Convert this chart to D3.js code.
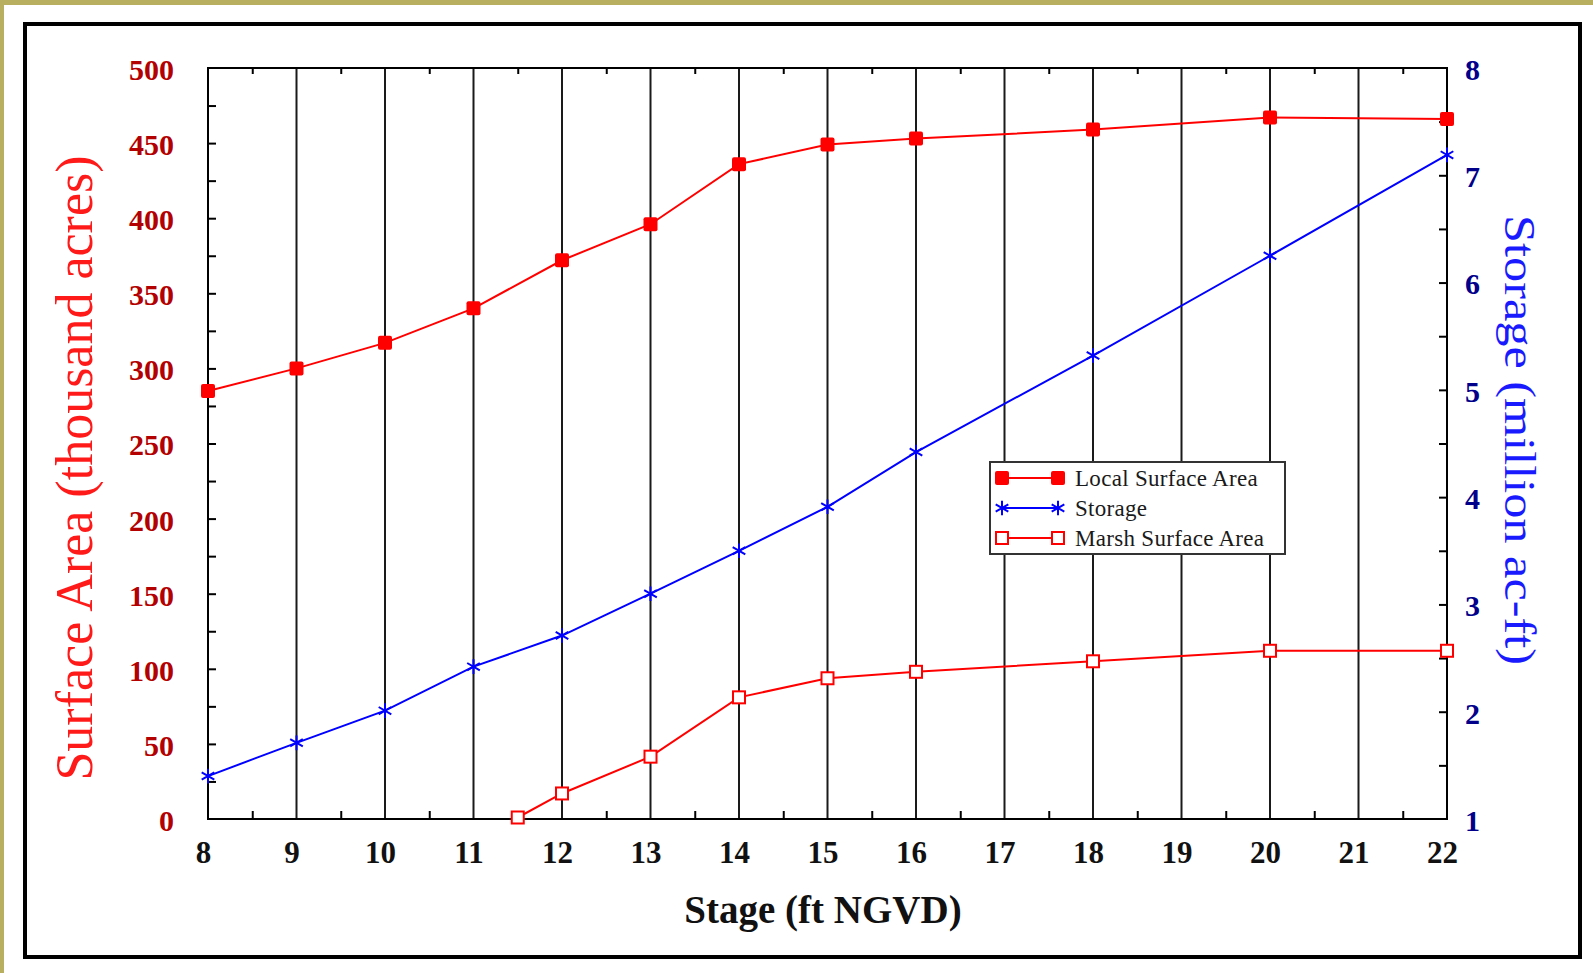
<!DOCTYPE html>
<html lang="en">
  <head>
    <meta charset="utf-8">
    <title>Stage vs Surface Area and Storage</title>
    <script src="https://d3js.org/d3.v7.js"></script>
    <style>
      body { margin: 0; background: #b8b060; }
      svg { display: block; }
      text { font-family: "Liberation Serif", "Times New Roman", serif; }
    </style>
  </head>

  <body>
    <svg></svg>

  <script>

// Data

  var stage = [8, 9, 10, 11, 12, 13, 14, 15, 16, 18, 20, 22];
  var localArea = [285, 300, 317, 340, 372, 396, 436, 449, 453, 459, 467, 466];
  var storage = [1.40, 1.71, 2.01, 2.42, 2.71, 3.10, 3.50, 3.91, 4.42, 5.32, 6.25, 7.19];
  var marshStage = [11.5, 12, 13, 14, 15, 16, 18, 20, 22];
  var marshArea = [1, 17, 41.5, 81, 93.7, 98, 105, 112, 112];

  var xTicks = d3.range(8, 23, 1);
  var leftTicks = d3.range(0, 501, 50);
  var rightTicks = d3.range(1, 9, 1);

  var w = 1593;
  var h = 973;
  var plot = {left: 208, right: 1447, top: 68, bottom: 819};

  var svg = d3.select("svg")
      .attr("width", w)
      .attr("height", h);

  // white page with olive strip on top and left
  svg.append("rect")
      .attr("x", 4)
      .attr("y", 5)
      .attr("width", w - 4)
      .attr("height", h - 5)
      .attr("fill", "white");

  svg.append("rect")
      .attr("x", 25)
      .attr("y", 24)
      .attr("width", 1555)
      .attr("height", 933)
      .attr("fill", "none")
      .attr("stroke", "black")
      .attr("stroke-width", 4);

  var xScale = d3.scaleLinear()
      .domain([8, 22])
      .range([plot.left, plot.right]);

  var yLeft = d3.scaleLinear()
      .domain([0, 500])
      .range([plot.bottom, plot.top]);

  var yRight = d3.scaleLinear()
      .domain([1, 8])
      .range([plot.bottom, plot.top]);

// vertical grid lines

  svg.append("g")
      .selectAll("line")
      .data(xTicks.slice(1, -1))
      .enter().append("line")
      .attr("x1", d => xScale(d))
      .attr("x2", d => xScale(d))
      .attr("y1", plot.top)
      .attr("y2", plot.bottom)
      .attr("stroke", "#1a1a1a")
      .attr("stroke-width", 2);

// minor ticks

  var halfTicks = d3.range(8.5, 22, 1);

  svg.append("g")
      .attr("transform", `translate(0, ${plot.bottom})`)
      .call(d3.axisBottom(xScale).tickValues(halfTicks).tickSize(-8).tickFormat(""))
      .call(g => g.select(".domain").remove())
      .selectAll("line").attr("stroke-width", 2);

  svg.append("g")
      .attr("transform", `translate(0, ${plot.top})`)
      .call(d3.axisTop(xScale).tickValues(halfTicks).tickSize(-6).tickFormat(""))
      .call(g => g.select(".domain").remove())
      .selectAll("line").attr("stroke-width", 2);

  svg.append("g")
      .attr("transform", `translate(${plot.left}, 0)`)
      .call(d3.axisLeft(yLeft).tickValues(d3.range(25, 500, 25)).tickSize(-8).tickFormat(""))
      .call(g => g.select(".domain").remove())
      .selectAll("line").attr("stroke-width", 2);

  svg.append("g")
      .attr("transform", `translate(${plot.right}, 0)`)
      .call(d3.axisRight(yRight).tickValues(d3.range(1.5, 8, 0.5)).tickSize(-8).tickFormat(""))
      .call(g => g.select(".domain").remove())
      .selectAll("line").attr("stroke-width", 2);

// plot frame

  svg.append("rect")
      .attr("x", plot.left)
      .attr("y", plot.top)
      .attr("width", plot.right - plot.left)
      .attr("height", plot.bottom - plot.top)
      .attr("fill", "none")
      .attr("stroke", "black")
      .attr("stroke-width", 2);

// tick labels

  var xAxis = svg.append("g")
      .attr("transform", `translate(0, ${plot.bottom})`)
      .call(d3.axisBottom(xScale).tickValues(xTicks).tickSize(0).tickPadding(22).tickFormat(d3.format("d")));
  xAxis.select(".domain").remove();
  xAxis.selectAll("text")
      .attr("dx", -5)
      .attr("font-size", 31)
      .attr("font-weight", "bold")
      .attr("fill", "#111");

  var leftAxis = svg.append("g")
      .attr("transform", `translate(${plot.left}, 0)`)
      .call(d3.axisLeft(yLeft).tickValues(leftTicks).tickSize(0).tickPadding(34));
  leftAxis.select(".domain").remove();
  leftAxis.selectAll("text")
      .attr("dy", "0.38em")
      .attr("font-size", 30)
      .attr("font-weight", "bold")
      .attr("fill", "#b30000");

  var rightAxis = svg.append("g")
      .attr("transform", `translate(${plot.right}, 0)`)
      .call(d3.axisRight(yRight).tickValues(rightTicks).tickSize(0).tickPadding(18).tickFormat(d3.format("d")));
  rightAxis.select(".domain").remove();
  rightAxis.selectAll("text")
      .attr("dy", "0.38em")
      .attr("font-size", 30)
      .attr("font-weight", "bold")
      .attr("fill", "#00008b");

// axis titles

  svg.append("text")
      .attr("x", 823)
      .attr("y", 923)
      .attr("text-anchor", "middle")
      .attr("font-size", 39)
      .attr("font-weight", "bold")
      .attr("fill", "#111")
      .text("Stage (ft NGVD)");

  svg.append("text")
      .attr("transform", "translate(92, 468) rotate(-90)")
      .attr("text-anchor", "middle")
      .attr("font-size", 52)
      .attr("fill", "#ff1a1a")
      .text("Surface Area (thousand acres)");

  svg.append("text")
      .attr("transform", "translate(1505, 440) rotate(90)")
      .attr("text-anchor", "middle")
      .attr("font-size", 45)
      .attr("textLength", 450)
      .attr("lengthAdjust", "spacingAndGlyphs")
      .attr("fill", "#1a1aff")
      .text("Storage (million ac-ft)");

// series

  var localData = stage.map((s, i) => ({x: s, y: localArea[i]}));
  var storageData = stage.map((s, i) => ({x: s, y: storage[i]}));
  var marshData = marshStage.map((s, i) => ({x: s, y: marshArea[i]}));

  var lineLeft = d3.line().x(d => xScale(d.x)).y(d => yLeft(d.y));
  var lineRight = d3.line().x(d => xScale(d.x)).y(d => yRight(d.y));

  var star = d3.symbol().type(d3.symbolAsterisk).size(150);

  function filledSquare(g, x, y) {
    g.append("rect")
        .attr("x", x - 7)
        .attr("y", y - 7)
        .attr("width", 14)
        .attr("height", 14)
        .attr("rx", 2)
        .attr("fill", "#ff0000");
  }

  function openSquare(g, x, y) {
    g.append("rect")
        .attr("x", x - 6)
        .attr("y", y - 6)
        .attr("width", 12)
        .attr("height", 12)
        .attr("fill", "white")
        .attr("stroke", "#ff0000")
        .attr("stroke-width", 2);
  }

  function asterisk(g, x, y) {
    g.append("path")
        .attr("d", star())
        .attr("transform", `translate(${x}, ${y})`)
        .attr("fill", "none")
        .attr("stroke", "#0000ff")
        .attr("stroke-width", 2);
  }

  var series = svg.append("g");

  series.append("path")
      .datum(localData)
      .attr("d", lineLeft)
      .attr("fill", "none")
      .attr("stroke", "#ff0000")
      .attr("stroke-width", 2);

  series.append("path")
      .datum(storageData)
      .attr("d", lineRight)
      .attr("fill", "none")
      .attr("stroke", "#0000ff")
      .attr("stroke-width", 2);

  series.append("path")
      .datum(marshData)
      .attr("d", lineLeft)
      .attr("fill", "none")
      .attr("stroke", "#ff0000")
      .attr("stroke-width", 2);

  localData.forEach(d => filledSquare(series, xScale(d.x), yLeft(d.y)));
  storageData.forEach(d => asterisk(series, xScale(d.x), yRight(d.y)));
  marshData.forEach(d => openSquare(series, xScale(d.x), yLeft(d.y)));

// legend

  var legendItems = [
    {name: "Local Surface Area", color: "#ff0000", mark: filledSquare},
    {name: "Storage", color: "#0000ff", mark: asterisk},
    {name: "Marsh Surface Area", color: "#ff0000", mark: openSquare}
  ];

  var legend = svg.append("g");

  legend.append("rect")
      .attr("x", 990)
      .attr("y", 462)
      .attr("width", 295)
      .attr("height", 92)
      .attr("fill", "white")
      .attr("stroke", "#333")
      .attr("stroke-width", 2);

  legendItems.forEach((item, i) => {
    var cy = 478 + i * 30;
    legend.append("line")
        .attr("x1", 1002)
        .attr("x2", 1058)
        .attr("y1", cy)
        .attr("y2", cy)
        .attr("stroke", item.color)
        .attr("stroke-width", 2);
    item.mark(legend, 1002, cy);
    item.mark(legend, 1058, cy);
    legend.append("text")
        .attr("x", 1075)
        .attr("y", cy + 8)
        .attr("font-size", 23)
        .attr("letter-spacing", 0.3)
        .attr("fill", "#1a1a1a")
        .text(item.name);
  });

    </script>

  </body>

</html>
